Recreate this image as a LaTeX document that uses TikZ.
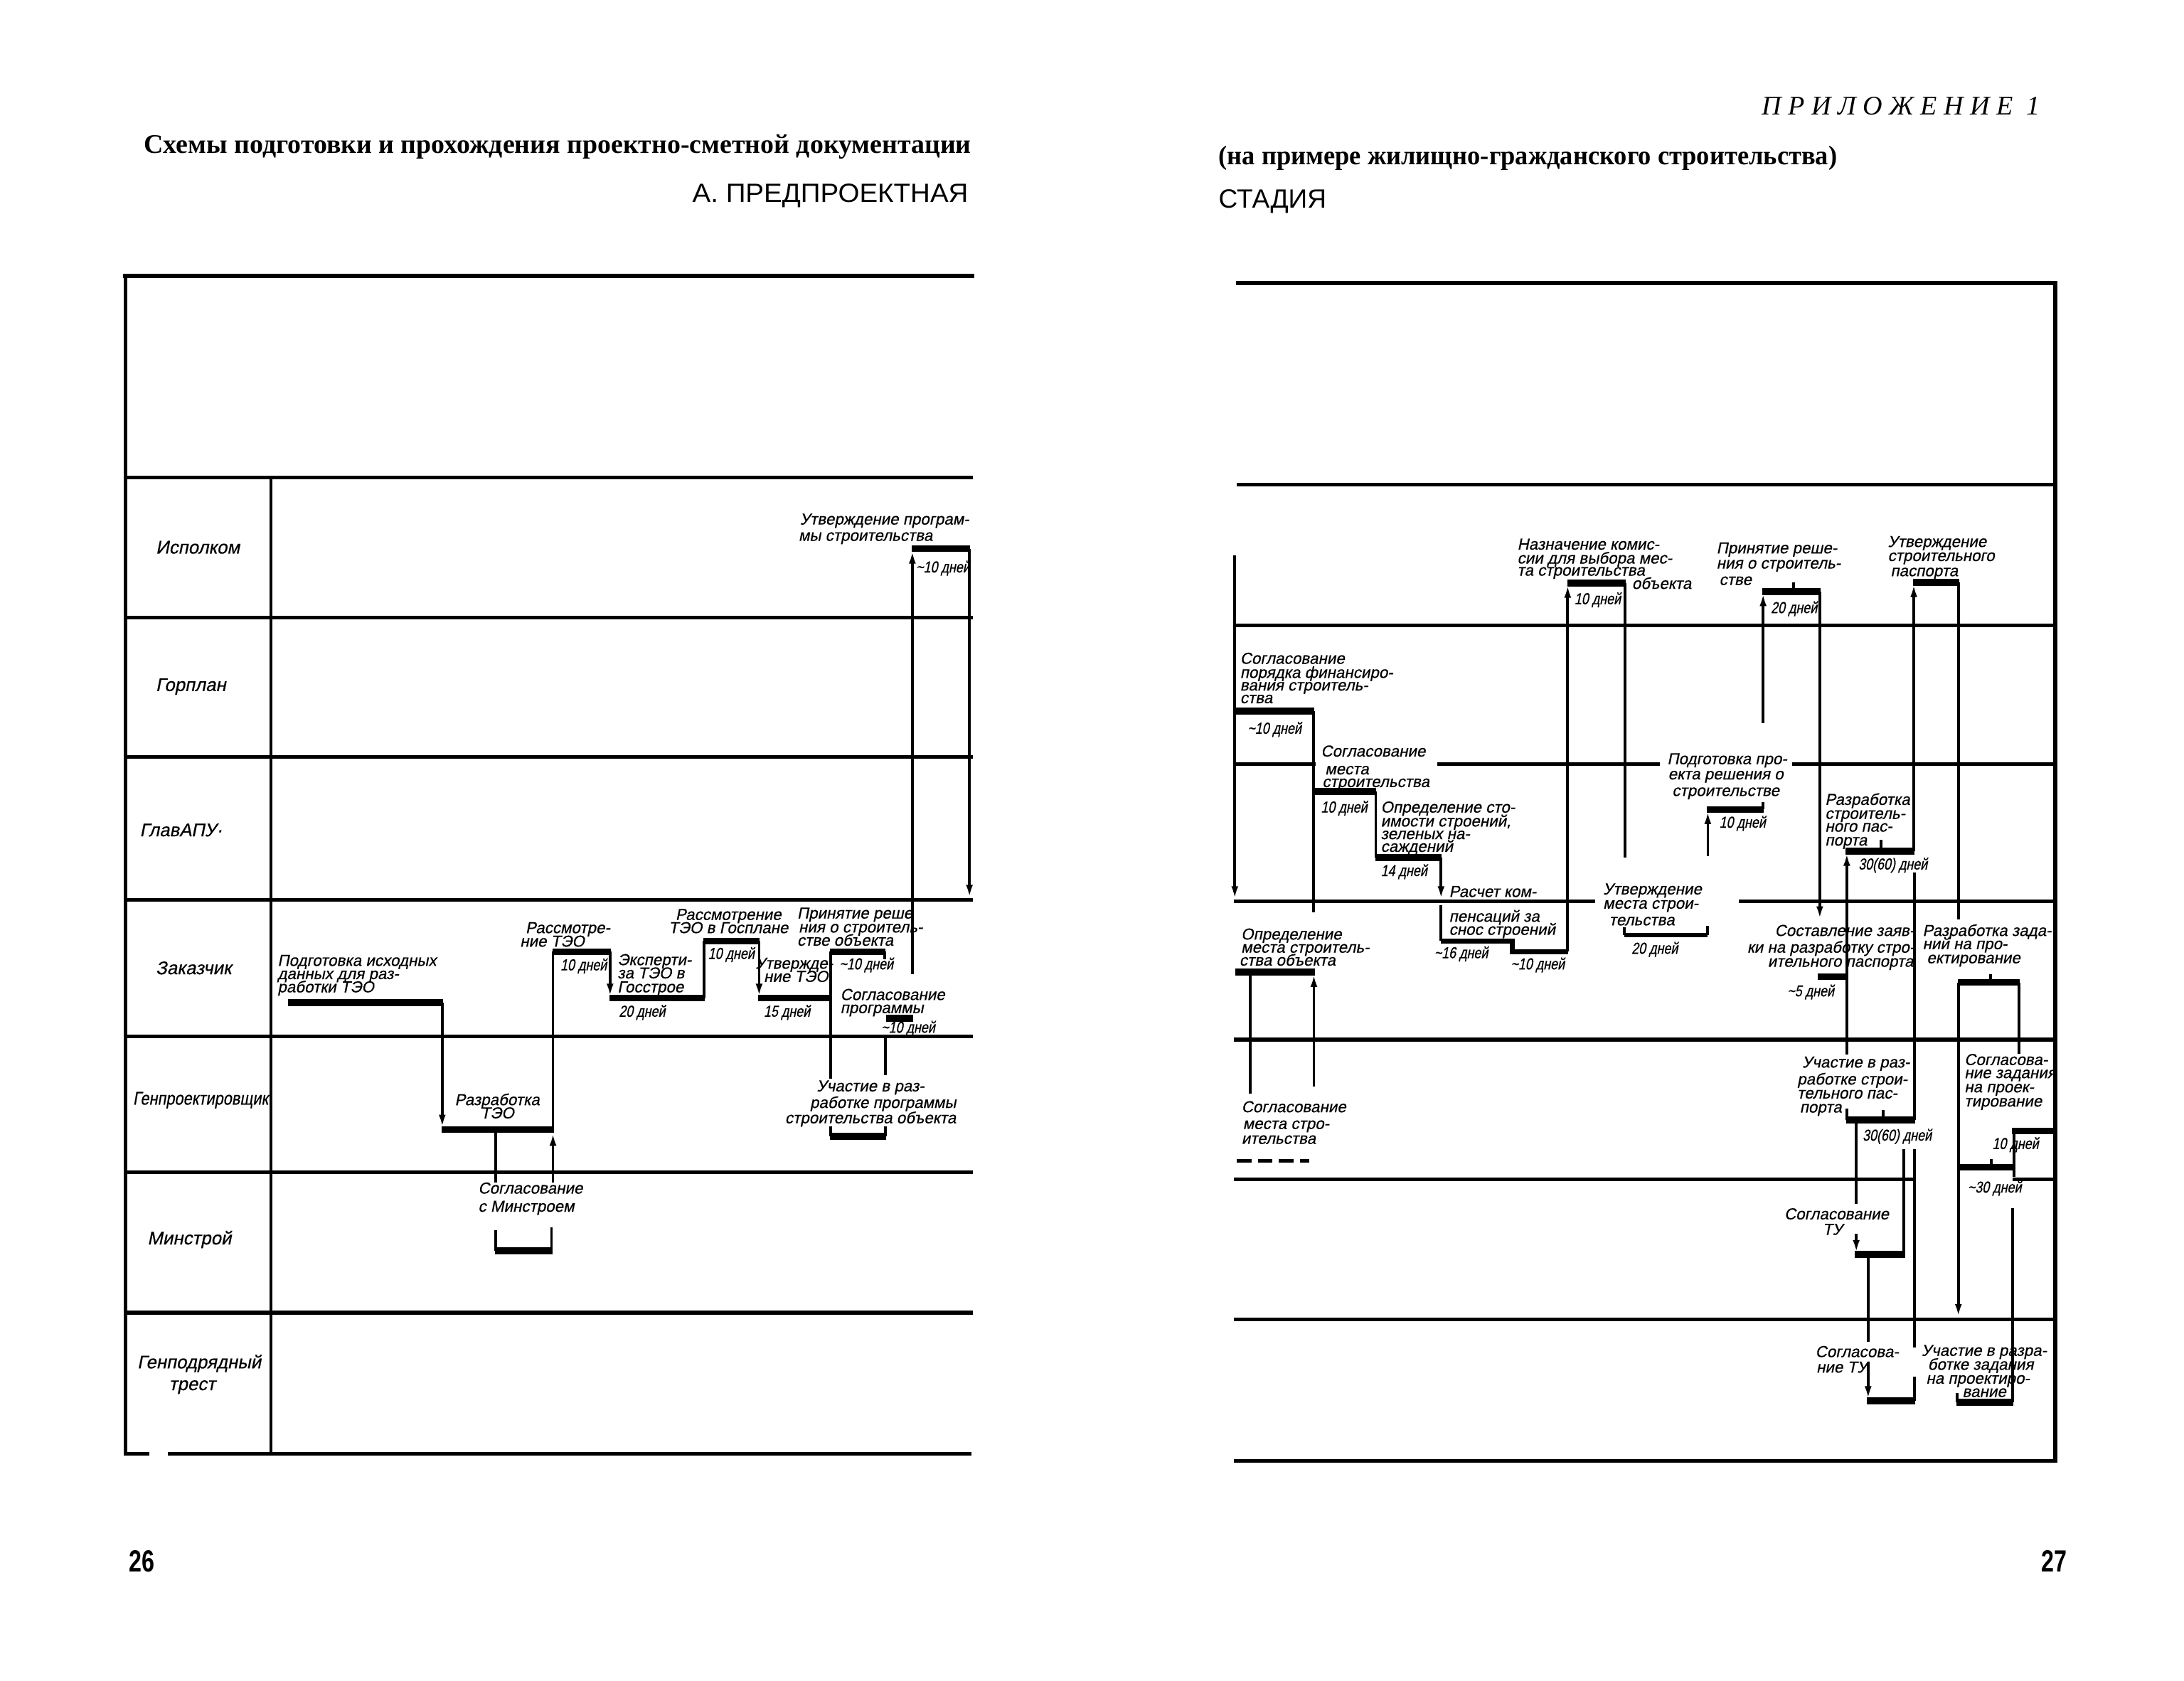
\documentclass[tikz,border=0pt]{standalone}
\usepackage{graphicx}
\usepackage{fontspec}
\setmainfont{Liberation Serif}
\newfontfamily\hand[FakeSlant=0.2,FakeBold=0.5]{Liberation Sans}
\newfontfamily\handc[FakeSlant=0.2,FakeStretch=0.8,FakeBold=0.5]{Liberation Sans}
\newfontfamily\grot{Liberation Sans}
\newfontfamily\grotn[FakeStretch=0.75]{Liberation Sans}
\usetikzlibrary{arrows.meta}
\newdimen\unitD \unitD=0.02cm
\newcommand\fitw[2]{\resizebox{#1\unitD}{\height}{#2}}
\newcommand\tld{\textasciitilde}
\newcommand\LabL[4]{\node[lbl,anchor=mid west] (#1) at (#2,#3) {#4};}
\newcommand\LabC[4]{\node[lbl,anchor=mid] (#1) at (#2,#3) {#4};}
\newcommand\LabR[4]{\node[lbl,anchor=mid east] (#1) at (#2,#3) {#4};}
\newcommand\DurC[4]{\node[dur,anchor=mid] (#1) at (#2,#3) {#4};}
\begin{document}
\begin{tikzpicture}[x=0.02cm,y=-0.02cm,
  grid/.style={line width=1.5pt,line cap=rect},
  conn/.style={line width=1.1pt},
  bar/.style={line width=2.8pt},
  mbar/.style={line width=2pt},
  arr/.style={conn,-{Latex[length=5.5pt,width=2.8pt]}},
  lbl/.style={font=\hand\fontsize{6.5}{7}\selectfont,inner sep=0pt},
  dur/.style={font=\handc\fontsize{6.5}{7}\selectfont,inner sep=0pt},
  head/.style={font=\hand\fontsize{7.5}{8}\selectfont,inner sep=0pt},
  ttl/.style={anchor=mid west,inner sep=0pt}]
\fill[white] (0,0) rectangle (1568,1207);
\useasboundingbox (0,0) rectangle (1568,1207);

% ---------- titles ----------
\node[ttl] (t1) at (103,106) {\fitw{594}{\bfseries\fontsize{11}{13}\selectfont Схемы подготовки и прохождения проектно-сметной документации}};
\node[ttl] (t2) at (874.6,114) {\fitw{444}{\bfseries\fontsize{11}{13}\selectfont (на примере жилищно-гражданского строительства)}};
\node[ttl] (t3) at (496.8,141.3) {\fitw{198}{\grot\fontsize{10.8}{13}\selectfont А. ПРЕДПРОЕКТНАЯ}};
\node[ttl] (t4) at (874.6,145.5) {\fitw{77.4}{\grot\fontsize{10.8}{13}\selectfont СТАДИЯ}};
\node[ttl] (t5) at (1264.5,78.6) {\fitw{200}{\itshape\fontsize{11}{13}\selectfont П Р И Л О Ж Е Н И Е\ \ 1}};

% ---------- left table ----------
\draw[grid,line width=1.7pt] (90,198) -- (698,198);
\draw[grid] (90,198) -- (90,1044);
\foreach \yy in {343,443.5,543.5,646,744,841.5,942.5} \draw[grid] (90,\yy) -- (697,\yy);
\draw[grid] (90,1044) -- (106,1044);
\draw[grid] (122,1044) -- (696,1044);
\draw[conn] (194.5,343) -- (194.5,1044);

\node[head] (rIsp) at (142,393) {Исполком};
\node[head] (rGor) at (137,493) {Горплан};
\node[head] (rGlav) at (130,596) {ГлавАПУ·};
\node[head] (rZak) at (139,695) {Заказчик};
\node[head] (rGen) at (144,790) {\fitw{97}{Генпроектировщик}};
\node[head] (rMin) at (136,890) {Минстрой};
\node[head] (rGpt1) at (143,979) {Генподрядный};
\node[head] (rGpt2) at (138,996) {трест};

% Подготовка исходных данных
\LabL{a1}{199}{689.5}{Подготовка исходных}
\LabL{a2}{199}{699}{данных для раз-}
\LabL{a3}{199}{708.5}{работки ТЭО}
\draw[bar] (207,720) -- (318,720);
\draw[arr] (317.5,720) -- (317.5,810);
% Разработка ТЭО
\draw[bar] (317,811) -- (397.5,811);
\LabC{b1}{357}{789.5}{Разработка}
\LabC{b2}{357}{799}{ТЭО}
\draw[conn] (356,811) -- (356,849);
\draw[arr] (397,849) -- (397,813);
\draw[conn] (397,811) -- (397,683);
% Согласование с Минстроем
\LabL{c1}{343}{853}{Согласование}
\LabL{c2}{343}{866}{с Минстроем}
\draw[conn] (356,883.5) -- (356,898);
\draw[conn] (396,881) -- (396,898);
\draw[bar] (355.5,898) -- (396.5,898);
% Рассмотрение ТЭО
\draw[bar] (396.5,683.4) -- (438.5,683.4);
\LabL{d1}{377}{666}{Рассмотре-}
\LabL{d2}{373}{675.7}{ние ТЭО}
\DurC{d3}{419}{692.7}{10 дней}
\draw[arr] (438,683.4) -- (438,716);
% Экспертиза
\draw[bar] (437.5,716.6) -- (506,716.6);
\LabL{e1}{443}{689}{Эксперти-}
\LabL{e2}{443}{698.5}{за ТЭО в}
\LabL{e3}{443}{708.5}{Госстрое}
\DurC{e4}{461}{726}{20 дней}
\draw[conn] (505.5,716.6) -- (505.5,675.7);
% Госплан
\draw[bar] (505,675.7) -- (545.5,675.7);
\LabC{f1}{523}{656.5}{Рассмотрение}
\LabC{f2}{523}{666}{ТЭО в Госплане}
\DurC{f3}{525}{684.5}{10 дней}
\draw[arr] (545,675.7) -- (545,716);
% Утверждение ТЭО
\draw[bar] (544.5,716.6) -- (597,716.6);
\LabL{g1}{542}{691.5}{Утвержде-}
\LabL{g2}{548}{701}{ние ТЭО}
\DurC{g3}{565}{726}{15 дней}
\draw[conn] (596.5,683.4) -- (596.5,774.5);
% Принятие решения
\draw[bar] (596,683.4) -- (635.5,683.4);
\draw[conn] (635,683.4) -- (635,689);
\LabL{h1}{572}{655.5}{Принятие реше}
\LabL{h2}{573}{665.5}{ния о строитель-}
\LabL{h3}{572}{675}{стве объекта}
\DurC{h4}{622}{692}{\tld10 дней}
% Исполком
\draw[arr] (655,699.6) -- (655,395);
\draw[bar] (654.5,394) -- (696.5,394);
\LabL{i1}{574}{372.6}{Утверждение програм-}
\LabL{i2}{573}{384.3}{мы строительства}
\DurC{i3}{677}{407}{\tld10 дней}
\draw[arr] (696,394) -- (696,645);
% Согласование программы
\LabL{j1}{603}{714}{Согласование}
\LabL{j2}{603}{723.4}{программы}
\draw[bar] (636,731) -- (655.5,731);
\DurC{j3}{652}{737.5}{\tld10 дней}
\draw[conn] (635.7,744) -- (635.7,772);
% Участие в разработке программы
\LabC{k1}{625}{779.6}{Участие в раз-}
\LabC{k2}{634}{791.5}{работке программы}
\LabC{k3}{625}{802.5}{строительства объекта}
\draw[conn] (596.5,809) -- (596.5,816);
\draw[conn] (635.7,809) -- (635.7,816);
\draw[bar] (596,816) -- (636.2,816);

% ---------- right table ----------
\draw[grid,line width=1.7pt] (889,203) -- (1475.6,203) -- (1475.6,1049);
\draw[grid] (889,348) -- (1475.6,348);
\draw[grid] (887,449) -- (1475.6,449);
\draw[grid] (887,548.4) -- (943,548.4);
\draw[grid] (1033,548.4) -- (1190.5,548.4);
\draw[grid] (1288,548.4) -- (1475.6,548.4);
\draw[grid] (887,647) -- (1144,647);
\draw[grid] (1249.6,647) -- (1475.6,647);
\draw[grid] (887,746.5) -- (1475.6,746.5);
\draw[grid] (887,846.7) -- (1374,846.7);
\draw[grid] (1446,846.7) -- (1475.6,846.7);
\draw[grid] (887,947.4) -- (1475.6,947.4);
\draw[grid] (887,1049) -- (1475.6,1049);
\draw[arr] (886.5,399) -- (886.5,646);

% A Согласование порядка финансирования
\LabL{A1}{890}{472.6}{Согласование}
\LabL{A2}{890}{482.7}{порядка финансиро-}
\LabL{A3}{890}{491.8}{вания строитель-}
\LabL{A4}{890}{500.9}{ства}
\draw[bar] (887,510.6) -- (943.7,510.6);
\DurC{A5}{915}{522.8}{\tld10 дней}
\draw[conn] (943.2,510.6) -- (943.2,655);
% B Согласование места
\LabL{B1}{948}{539.2}{Согласование}
\LabL{B2}{951}{552}{места}
\LabL{B3}{949}{561.1}{строительства}
\draw[bar] (942.7,568.4) -- (988.2,568.4);
\DurC{B4}{965}{579.4}{10 дней}
\draw[conn] (987.7,568.4) -- (987.7,615.8);
% C Определение стоимости
\LabL{C1}{991}{579.4}{Определение сто-}
\LabL{C2}{991}{589.4}{имости строений,}
\LabL{C3}{991}{598.5}{зеленых на-}
\LabL{C4}{991}{607.6}{саждений}
\draw[bar] (987.2,615.8) -- (1035.1,615.8);
\DurC{C5}{1008}{625}{14 дней}
\draw[arr] (1034.6,615.8) -- (1034.6,646);
% D Расчет компенсаций
\LabL{D1}{1040}{640}{Расчет ком-}
\LabL{D2}{1040}{657.8}{пенсаций за}
\LabL{D3}{1040}{667.2}{снос строений}
\draw[conn] (1034.5,650) -- (1034.5,675.7);
\draw[mbar] (1034.5,675.7) -- (1085.6,675.7) -- (1085.6,683.3) -- (1126,683.3);
\DurC{D4}{1049}{684}{\tld16 дней}
\DurC{D5}{1104}{692}{\tld10 дней}
\draw[arr] (1125.5,683.3) -- (1125.5,419.5);
% E Назначение комиссии
\draw[bar] (1125.5,418.8) -- (1167,418.8);
\LabL{E1}{1089}{390.6}{Назначение комис-}
\LabL{E2}{1089}{400.6}{сии для выбора мес-}
\LabL{E3}{1089}{409.3}{та строительства}
\LabC{E4}{1193}{418.8}{объекта}
\DurC{E5}{1147}{429.8}{10 дней}
\draw[conn] (1166.5,418.8) -- (1166.5,615.8);
% F Утверждение места строительства
\LabL{F1}{1150.6}{638.2}{Утверждение}
\LabL{F2}{1150.6}{648.4}{места строи-}
\LabL{F3}{1155}{660.4}{тельства}
\draw[mbar] (1166.1,671.4) -- (1226,671.4);
\draw[conn] (1166.1,666) -- (1166.1,671.4);
\draw[conn] (1226,665) -- (1226,671.4);
\DurC{F4}{1188}{680.8}{20 дней}
% G Подготовка проекта решения
\LabC{G1}{1240}{544.7}{Подготовка про-}
\LabC{G2}{1239}{555.6}{екта решения о}
\LabC{G3}{1239}{567.5}{строительстве}
\draw[bar] (1225.6,581.2) -- (1266.3,581.2);
\draw[conn] (1265.8,575.7) -- (1265.8,581.2);
\DurC{G4}{1251}{590.3}{10 дней}
\draw[arr] (1226.1,614.9) -- (1226.1,582);
% H Принятие решения о строительстве
\LabL{H1}{1232}{393.3}{Принятие реше-}
\LabL{H2}{1232}{404.2}{ния о строитель-}
\LabL{H3}{1234}{416}{стве}
\draw[bar] (1265.3,424.9) -- (1306.9,424.9);
\draw[conn] (1287.5,418) -- (1287.5,424.9);
\DurC{H4}{1288}{436.2}{20 дней}
\draw[arr] (1265.8,519.2) -- (1265.8,425.5);
\draw[arr] (1306.5,424.9) -- (1306.5,660.4);
% I Утверждение строительного паспорта
\LabL{I1}{1355}{388.7}{Утверждение}
\LabL{I2}{1355}{398.8}{строительного}
\LabL{I3}{1357}{409.7}{паспорта}
\draw[bar] (1373.5,418.3) -- (1406.5,418.3);
\draw[arr] (1374,611) -- (1374,419);
\draw[conn] (1406,418.3) -- (1406,660);
% J Разработка строительного паспорта
\LabL{J1}{1310}{573.9}{Разработка}
\LabL{J2}{1310}{583.9}{строитель-}
\LabL{J3}{1310}{593.1}{ного пас-}
\LabL{J4}{1310}{603.1}{порта}
\draw[bar] (1325,611.3) -- (1374.5,611.3);
\draw[conn] (1350.6,603) -- (1350.6,611.3);
\DurC{J5}{1359}{620.3}{30(60) дней}
\draw[arr] (1325.9,757) -- (1325.9,612);
\draw[conn] (1374.3,626.3) -- (1374.3,804);
% K Составление заявки
\LabR{K1}{1375}{668}{Составление заяв-}
\LabR{K2}{1375}{680}{ки на разработку стро-}
\LabR{K3}{1374}{690.1}{ительного паспорта}
\draw[bar] (1305,701.2) -- (1326.4,701.2);
\DurC{K4}{1300}{711.4}{\tld5 дней}
% L Разработка заданий на проектирование
\LabL{L1}{1380}{668}{Разработка зада-}
\LabL{L2}{1380}{677.5}{ний на про-}
\LabL{L3}{1383}{687.6}{ектирование}
\draw[bar] (1405.5,705.4) -- (1450,705.4);
\draw[conn] (1429,699.5) -- (1429,705.4);
\draw[arr] (1406,705.4) -- (1406,946);
\draw[conn] (1449.5,705.4) -- (1449.5,756.5);
% M Согласование задания на проектирование
\LabL{M1}{1410}{760.7}{Согласова-}
\LabL{M2}{1410}{770.1}{ние задания}
\LabL{M3}{1410}{780.3}{на проек-}
\LabL{M4}{1410}{790.5}{тирование}
\draw[bar] (1444.5,812) -- (1475.6,812);
\DurC{M5}{1447}{821}{10 дней}
\draw[conn] (1445.9,812) -- (1445.9,845);
\draw[bar] (1406.2,838.2) -- (1446.4,838.2);
\draw[conn] (1429.7,832) -- (1429.7,838.2);
\DurC{M6}{1432}{852.3}{\tld30 дней}
\draw[conn] (1445,867.5) -- (1445,1006.7);
% N Участие в разработке задания
\LabC{N1}{1424.5}{969.5}{Участие в разра-}
\LabC{N2}{1422}{979.5}{ботке задания}
\LabC{N3}{1420}{989.5}{на проектиро-}
\LabC{N4}{1424.6}{999}{вание}
\draw[conn] (1405,1000) -- (1405,1006.7);
\draw[bar] (1404.5,1006.7) -- (1445.5,1006.7);
% O Участие в разработке строительного паспорта
\LabL{O1}{1293.5}{762.5}{Участие в раз-}
\LabL{O2}{1290}{774.7}{работке строи-}
\LabL{O3}{1290}{784.7}{тельного пас-}
\LabL{O4}{1291.8}{794.8}{порта}
\draw[conn] (1325.9,796) -- (1325.9,804);
\draw[bar] (1325.4,804) -- (1374.9,804);
\draw[conn] (1352.2,797) -- (1352.2,804);
\DurC{O5}{1362}{815}{30(60) дней}
\draw[conn] (1374.4,825) -- (1374.4,967.4);
% P Согласование ТУ
\draw[conn] (1332.7,804) -- (1332.7,864.5);
\LabC{P1}{1318.6}{871.5}{Согласование}
\LabC{P2}{1315.7}{882.6}{ТУ}
\draw[arr] (1332.7,886) -- (1332.7,900);
\draw[bar] (1331.8,900.8) -- (1368,900.8);
\draw[conn] (1366.7,825) -- (1366.7,900.8);
\draw[conn] (1341.2,900.8) -- (1341.2,963.3);
% Q Согласование ТУ (ниже)
\LabL{Q1}{1303}{970.4}{Согласова-}
\LabL{Q2}{1303.7}{981.5}{ние ТУ}
\draw[arr] (1341.2,977.5) -- (1341.2,1005);
\draw[bar] (1340.3,1005.7) -- (1374.9,1005.7);
\draw[conn] (1374.4,988.6) -- (1374.4,1005.7);
% R Определение места строительства объекта
\LabL{R1}{890.7}{670.6}{Определение}
\LabL{R2}{890.7}{680}{места строитель-}
\LabL{R3}{889.5}{689.3}{ства объекта}
\draw[bar] (887,698) -- (944.3,698);
\draw[conn] (897.6,698) -- (897.6,785.3);
\draw[arr] (943.3,780) -- (943.3,699);
% S Согласование места строительства (ниже)
\LabL{S1}{891}{794.6}{Согласование}
\LabL{S2}{892}{806.6}{места стро-}
\LabL{S3}{891}{817.3}{ительства}
\draw[line width=1.6pt,dash pattern=on 6pt off 2.6pt] (888,833.4) -- (940,833.4);

% ---------- page numbers ----------
\node[font=\grotn\bfseries\fontsize{12.5}{14}\selectfont,inner sep=0pt] (p26) at (102,1121) {26};
\node[font=\grotn\bfseries\fontsize{12.5}{14}\selectfont,inner sep=0pt] (p27) at (1475,1121) {27};
\end{tikzpicture}
\end{document}
